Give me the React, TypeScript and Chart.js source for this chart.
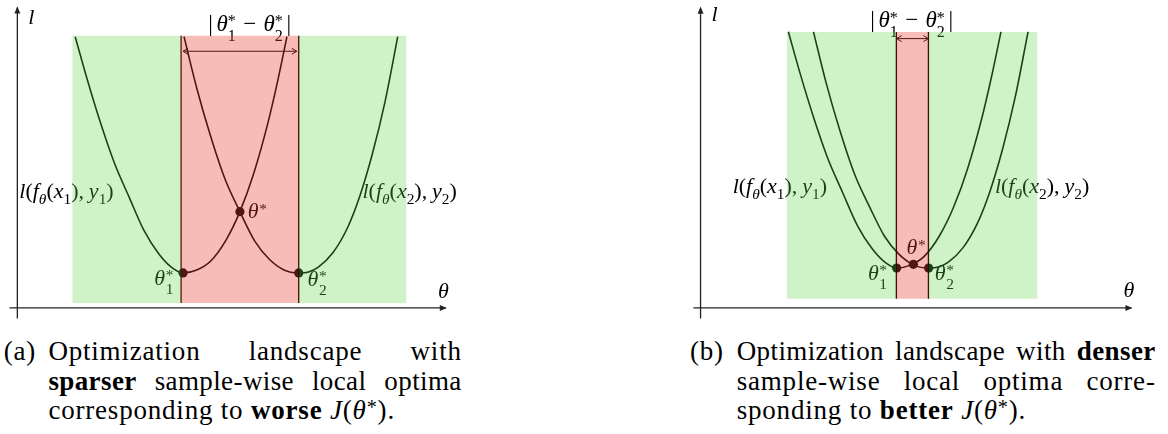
import React, { useEffect, useRef } from "react";
import { Chart, registerables } from "chart.js";

Chart.register(...registerables);

type P = [number, number];

// ---------------- Panel (a): sparser sample-wise local optima ----------------
const A_LOSS_X1: P[] = [
  [5.9, 27.9], [7.1, 23.6], [8.4, 19.3], [9.9, 14.9], [11.4, 11.4], [12.9, 8.0], [14.4, 5.6], [15.7, 4.2],
  [16.9, 3.6], [18.3, 3.9], [19.7, 4.8], [21.3, 7.0], [22.7, 9.9], [24.1, 13.8], [25.5, 18.8], [26.5, 23.1], [27.5, 27.9],
];
const A_LOSS_X2: P[] = [
  [17.0, 27.9], [18.3, 22.6], [19.7, 17.7], [21.2, 13.2], [22.7, 9.9], [24.2, 6.9], [25.7, 5.0], [27.2, 3.9],
  [28.7, 3.6], [29.7, 3.7], [30.7, 4.2], [32.2, 5.7], [33.7, 8.3], [34.9, 11.4], [36.2, 15.8], [37.5, 21.2], [38.8, 27.9],
];
const A_OPTIMA: P[] = [[16.9, 3.6], [22.7, 9.9], [28.7, 3.6]]; // θ1*, θ*, θ2*
const A_GREEN_X: P[] = [[5.6, 16.7], [28.7, 39.7]];
const A_RED_X: P = [16.7, 28.7];
const A_REGION_Y: P = [0.5, 28.0];
const A_GAP_X: P = [16.9, 28.5];
const A_GAP_Y = 26.4;

// ---------------- Panel (b): denser sample-wise local optima ----------------
const B_LOSS_X1: P[] = [
  [8.92, 28.4], [10.12, 24.1], [11.42, 19.8], [12.92, 15.4], [14.42, 11.9], [15.92, 8.5], [17.42, 6.1], [18.72, 4.7],
  [19.92, 4.1], [21.32, 4.4], [22.72, 5.3], [24.32, 7.5], [25.72, 10.4], [27.12, 14.3], [28.52, 19.3], [29.52, 23.6], [30.52, 28.4],
];
const B_LOSS_X2: P[] = [
  [11.47, 28.4], [12.77, 23.1], [14.17, 18.2], [15.67, 13.7], [17.17, 10.4], [18.67, 7.4], [20.17, 5.5], [21.67, 4.4],
  [23.17, 4.1], [24.17, 4.2], [25.17, 4.7], [26.67, 6.2], [28.17, 8.8], [29.37, 11.9], [30.67, 16.3], [31.97, 21.7], [33.27, 28.4],
];
const B_OPTIMA: P[] = [[19.92, 4.1], [21.62, 4.48], [23.17, 4.1]];
const B_GREEN_X: P[] = [[8.77, 19.89], [23.15, 34.24]];
const B_RED_X: P = [19.89, 23.15];
const B_REGION_Y: P = [0.93, 28.37];
const B_GAP_X: P = [19.92, 23.15];
const B_GAP_Y = 27.7;

const GREEN = "rgba(98, 212, 72, 0.3)";
const RED = "rgba(235, 64, 52, 0.35)";
const FONT = '"Liberation Serif", serif';
const LABEL_SIZE = 22;
const H = 330;

type Tok = { t: string; it?: boolean; sc?: "sub" | "sup"; under?: string; pl?: number; pr?: number };
type Label = { toks: Tok[]; x: number; y: number; align?: "left" | "center"; size?: number };

const thetaStar = (n?: string): Tok[] => [{ t: "θ", it: true }, { t: "*", sc: "sup", under: n, pl: 0.03 }];
const lossLabel = (n: string): Tok[] => [
  { t: "l", it: true }, { t: "(" }, { t: "f", it: true }, { t: "θ", it: true, sc: "sub" }, { t: "(" },
  { t: "x", it: true }, { t: n, sc: "sub" }, { t: ")," }, { t: "y", it: true, pl: 0.22 }, { t: n, sc: "sub" }, { t: ")" },
];
const gapLabel: Tok[] = [
  { t: "|" }, { t: "θ", it: true, pl: 0.16 }, { t: "*", sc: "sup", under: "1" }, { t: "−", pl: 0.32, pr: 0.32 },
  { t: "θ", it: true }, { t: "*", sc: "sup", under: "2" }, { t: "|", pl: 0.16 },
];

type PanelCfg = {
  left: number; width: number; xRange: P; yRange: P;
  loss1: P[]; loss2: P[]; optima: P[]; green: P[]; red: P; regionY: P; gapX: P; gapY: number;
  axisX: P; axisY: P; labels: Label[];
};

const PANEL_A: PanelCfg = {
  left: 0, width: 470, xRange: [-1.3, 45.7], yRange: [-1.8, 31.2],
  loss1: A_LOSS_X1, loss2: A_LOSS_X2, optima: A_OPTIMA, green: A_GREEN_X, red: A_RED_X, regionY: A_REGION_Y,
  gapX: A_GAP_X, gapY: A_GAP_Y, axisX: [-0.8, 43.7], axisY: [-1.1, 30.9],
  labels: [
    { toks: [{ t: "l", it: true }], x: 1.1, y: 29.2 },
    { toks: [{ t: "θ", it: true }], x: 42.9, y: 1.0 },
    { toks: gapLabel, x: 23.7, y: 28.5, align: "center", size: 23 },
    { toks: lossLabel("1"), x: 0.2, y: 11.3 },
    { toks: lossLabel("2"), x: 35.2, y: 11.3 },
    { toks: thetaStar(), x: 23.5, y: 9.2 },
    { toks: thetaStar("1"), x: 13.97, y: 2.4 },
    { toks: thetaStar("2"), x: 29.6, y: 2.3 },
  ],
};

const PANEL_B: PanelCfg = {
  left: 580, width: 588, xRange: [-11.78, 47.02], yRange: [-1.8, 31.2],
  loss1: B_LOSS_X1, loss2: B_LOSS_X2, optima: B_OPTIMA, green: B_GREEN_X, red: B_RED_X, regionY: B_REGION_Y,
  gapX: B_GAP_X, gapY: B_GAP_Y, axisX: [-0.72, 43.77], axisY: [-1.1, 30.87],
  labels: [
    { toks: [{ t: "l", it: true }], x: 1.1, y: 29.5 },
    { toks: [{ t: "θ", it: true }], x: 42.97, y: 1.1 },
    { toks: gapLabel, x: 21.45, y: 28.85, align: "center", size: 23 },
    { toks: lossLabel("1"), x: 3.26, y: 11.8 },
    { toks: lossLabel("2"), x: 29.9, y: 11.8 },
    { toks: thetaStar(), x: 20.92, y: 5.5 },
    { toks: thetaStar("1"), x: 17.0, y: 2.9 },
    { toks: thetaStar("2"), x: 23.8, y: 2.9 },
  ],
};

function tokFont(tok: Tok, size: number) {
  const s = tok.sc ? size * 0.7 : size;
  return `${tok.it ? "italic " : ""}${s}px ${FONT}`;
}
function tokWidth(ctx: CanvasRenderingContext2D, tok: Tok, size: number) {
  ctx.font = tokFont(tok, size);
  let w = ctx.measureText(tok.t).width;
  if (tok.under !== undefined) {
    ctx.font = `${size * 0.7}px ${FONT}`;
    w = Math.max(w, ctx.measureText(tok.under).width);
  }
  return w + ((tok.pl || 0) + (tok.pr || 0)) * size;
}
function drawToks(ctx: CanvasRenderingContext2D, toks: Tok[], x: number, y: number, size: number, align?: string) {
  const total = toks.reduce((s, t) => s + tokWidth(ctx, t, size), 0);
  let cx = align === "center" ? x - total / 2 : x;
  ctx.textBaseline = "alphabetic";
  ctx.textAlign = "left";
  ctx.fillStyle = "#000";
  for (const t of toks) {
    const w = tokWidth(ctx, t, size);
    const x0 = cx + (t.pl || 0) * size;
    ctx.font = tokFont(t, size);
    if (t.under !== undefined) {
      ctx.fillText(t.t, x0, y - 0.2 * size);
      ctx.font = `${size * 0.7}px ${FONT}`;
      ctx.fillText(t.under, x0, y + 0.42 * size);
    } else {
      const dy = t.sc === "sub" ? 0.25 * size : t.sc === "sup" ? -0.2 * size : 0;
      ctx.fillText(t.t, x0, y + dy);
    }
    cx += w;
  }
}

function buildChart(canvas: HTMLCanvasElement, cfg: PanelCfg) {
  const xy = (pts: P[]) => pts.map(([x, y]) => ({ x, y }));
  const line = (pts: P[], extra: any) => ({
    type: "line" as const,
    data: xy(pts),
    borderColor: "#000",
    borderWidth: 1.4,
    pointRadius: 0,
    fill: false,
    tension: 0,
    ...extra,
  });
  const [yb, yt] = cfg.regionY;
  const datasets: any[] = [
    ...cfg.green.map(([x0, x1]) =>
      line([[x0, yt], [x1, yt]], { fill: { value: yb }, backgroundColor: GREEN, borderColor: "rgba(0,0,0,0)", borderWidth: 0, order: 0 })
    ),
    line([[cfg.red[0], yt], [cfg.red[1], yt]], { fill: { value: yb }, backgroundColor: RED, borderColor: "rgba(0,0,0,0)", borderWidth: 0, order: 0 }),
    line(cfg.loss1, { cubicInterpolationMode: "monotone", borderWidth: 1.6, order: 2 }),
    line(cfg.loss2, { cubicInterpolationMode: "monotone", borderWidth: 1.6, order: 2 }),
    line([[cfg.red[0], yb], [cfg.red[0], yt]], { borderColor: "#2a0000", borderWidth: 1.4, order: 2 }),
    line([[cfg.red[1], yb], [cfg.red[1], yt]], { borderColor: "#2a0000", borderWidth: 1.4, order: 2 }),
    line([[cfg.gapX[0], cfg.gapY], [cfg.gapX[1], cfg.gapY]], { borderWidth: 1, order: 2 }),
    line([[cfg.axisX[0], 0], [cfg.axisX[1], 0]], { borderColor: "#222", borderWidth: 1.3, order: 3 }),
    line([[0, cfg.axisY[0]], [0, cfg.axisY[1]]], { borderColor: "#222", borderWidth: 1.3, order: 3 }),
    line(cfg.optima, { showLine: false, pointRadius: 4.6, pointBackgroundColor: "#000", pointBorderWidth: 0, pointBorderColor: "#000", order: 1 }),
  ];

  const decor = {
    id: "decor",
    beforeDatasetsDraw(chart: any) {
      const ctx: CanvasRenderingContext2D = chart.ctx;
      const sx = chart.scales.x, sy = chart.scales.y;
      ctx.save();
      for (const lb of cfg.labels) {
        drawToks(ctx, lb.toks, sx.getPixelForValue(lb.x), sy.getPixelForValue(lb.y), lb.size || LABEL_SIZE, lb.align);
      }
      const y = sy.getPixelForValue(cfg.gapY);
      const x0 = sx.getPixelForValue(cfg.gapX[0]);
      const x1 = sx.getPixelForValue(cfg.gapX[1]);
      ctx.strokeStyle = "#000";
      ctx.lineWidth = 1;
      ctx.beginPath();
      ctx.moveTo(x0 + 5, y - 3); ctx.lineTo(x0, y); ctx.lineTo(x0 + 5, y + 3);
      ctx.moveTo(x1 - 5, y - 3); ctx.lineTo(x1, y); ctx.lineTo(x1 - 5, y + 3);
      ctx.stroke();
      ctx.restore();
    },
    afterDatasetsDraw(chart: any) {
      const ctx: CanvasRenderingContext2D = chart.ctx;
      const sx = chart.scales.x, sy = chart.scales.y;
      ctx.save();
      ctx.fillStyle = "#222";
      const tx = sx.getPixelForValue(cfg.axisX[1]), ty = sy.getPixelForValue(0);
      ctx.beginPath(); ctx.moveTo(tx + 1, ty); ctx.lineTo(tx - 6, ty - 3); ctx.lineTo(tx - 6, ty + 3); ctx.closePath(); ctx.fill();
      const ux = sx.getPixelForValue(0), uy = sy.getPixelForValue(cfg.axisY[1]);
      ctx.beginPath(); ctx.moveTo(ux, uy - 1); ctx.lineTo(ux - 3, uy + 6); ctx.lineTo(ux + 3, uy + 6); ctx.closePath(); ctx.fill();
      ctx.restore();
    },
  };

  return new Chart(canvas, {
    type: "line",
    data: { datasets },
    options: {
      animation: false,
      responsive: false,
      devicePixelRatio: 1,
      events: [],
      layout: { padding: 0 },
      scales: {
        x: { type: "linear", min: cfg.xRange[0], max: cfg.xRange[1], display: false },
        y: { type: "linear", min: cfg.yRange[0], max: cfg.yRange[1], display: false },
      },
      plugins: { legend: { display: false }, tooltip: { enabled: false } },
    },
    plugins: [decor],
  } as any);
}

function Panel({ cfg }: { cfg: PanelCfg }) {
  const ref = useRef<HTMLCanvasElement>(null);
  useEffect(() => {
    const chart = buildChart(ref.current!, cfg);
    return () => chart.destroy();
  }, []);
  return (
    <canvas
      ref={ref}
      width={cfg.width}
      height={H}
      style={{ position: "absolute", left: cfg.left, top: 0, width: cfg.width, height: H }}
    />
  );
}

const CAP_FONT = '"Liberation Serif", serif';
const capBase: React.CSSProperties = {
  position: "absolute",
  fontFamily: CAP_FONT,
  fontSize: 27,
  letterSpacing: "0.8px",
  lineHeight: "29.5px",
  whiteSpace: "nowrap",
  color: "#000",
};
const LINE_TOPS = [337.25, 366.75, 396.25];

function JLine({ left, right, row, ls, children }: { left: number; right: number; row: number; ls?: number; children: React.ReactNode }) {
  return (
    <div
      style={{
        ...capBase,
        left,
        width: right - left,
        top: LINE_TOPS[row],
        display: "flex",
        justifyContent: "space-between",
        letterSpacing: ls !== undefined ? `${ls}px` : capBase.letterSpacing,
      }}
    >
      {children}
    </div>
  );
}
function TLine({ left, row, children }: { left: number; row: number; children: React.ReactNode }) {
  return <div style={{ ...capBase, left, top: LINE_TOPS[row] }}>{children}</div>;
}
const Jtheta = () => (
  <span>
    <i>J</i>(<i>θ</i>
    <sup style={{ fontSize: "0.75em", verticalAlign: "0.25em", lineHeight: 0 }}>*</sup>).
  </span>
);

export default function App() {
  return (
    <div style={{ position: "fixed", left: 0, top: 0, width: 1168, height: 434, background: "#fff", overflow: "hidden" }}>
      <Panel cfg={PANEL_A} />
      <Panel cfg={PANEL_B} />

      <TLine left={3.7} row={0}>(a)</TLine>
      <JLine left={48.4} right={461.8} row={0}>
        <span>Optimization</span><span>landscape</span><span>with</span>
      </JLine>
      <JLine left={48.4} right={461.8} row={1} ls={0.4}>
        <b>sparser</b><span>sample-wise</span><span>local</span><span>optima</span>
      </JLine>
      <TLine left={48.4} row={2}>
        corresponding to <b>worse</b> <Jtheta />
      </TLine>

      <TLine left={690} row={0}>(b)</TLine>
      <JLine left={736.7} right={1155.7} row={0} ls={0.4}>
        <span>Optimization</span><span>landscape</span><span>with</span><b>denser</b>
      </JLine>
      <JLine left={736.7} right={1155.7} row={1}>
        <span>sample-wise</span><span>local</span><span>optima</span><span>corre-</span>
      </JLine>
      <TLine left={736.7} row={2}>
        sponding to <b>better</b> <Jtheta />
      </TLine>
    </div>
  );
}
